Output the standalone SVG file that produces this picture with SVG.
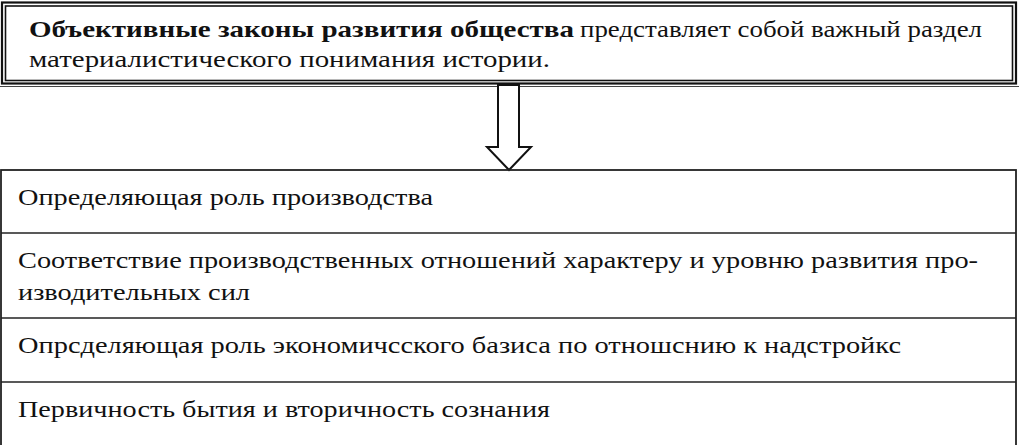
<svg xmlns="http://www.w3.org/2000/svg" width="1019" height="445" viewBox="0 0 1019 445">
<style>
.t{fill:#111;font-family:"Liberation Serif","Times New Roman",serif;font-size:23.5px}
.b{font-weight:bold}
.ln{stroke:#222;stroke-width:1.6;fill:none}
</style>
<rect width="1019" height="445" fill="#fff"/>
<g class="t">
<g id="top">
<rect x="2" y="2.5" width="1014" height="81" fill="#fff" stroke="#111" stroke-width="2.2"/>
<rect x="5.5" y="6" width="1007" height="74.5" fill="none" stroke="#111" stroke-width="1.6"/>
<line x1="0" y1="86.5" x2="1019" y2="86.5" stroke="#444" stroke-width="1"/>
<text y="37"><tspan x="29" class="b" textLength="545" lengthAdjust="spacingAndGlyphs">Объективные законы развития общества</tspan><tspan x="580" textLength="402" lengthAdjust="spacingAndGlyphs">представляет собой важный раздел</tspan></text>
<text x="29" y="67" textLength="521" lengthAdjust="spacingAndGlyphs">материалистического понимания истории.</text>
</g>
<g id="connectors">
<path d="M498,85 L519,85 L519,147 L531,147 L509,170 L487,147 L498,147 Z" fill="#fff" stroke="#111" stroke-width="2"/>
</g>
<g id="table">
<rect x="1" y="170" width="1015" height="280" fill="none" stroke="#222" stroke-width="1.8"/>
<g id="row1"><text x="18" y="205" textLength="415" lengthAdjust="spacingAndGlyphs">Определяющая роль производства</text></g>
<line class="ln" x1="1" y1="233" x2="1016" y2="233"/>
<g id="row2"><text x="18" y="268" textLength="960" lengthAdjust="spacingAndGlyphs">Соответствие производственных отношений характеру и уровню развития про-</text>
<text x="18" y="300" textLength="232" lengthAdjust="spacingAndGlyphs">изводительных сил</text></g>
<line class="ln" x1="1" y1="318" x2="1016" y2="318"/>
<g id="row3"><text x="18" y="353" textLength="883" lengthAdjust="spacingAndGlyphs">Опрсделяющая роль экономичсского базиса по отношснию к надстройкс</text></g>
<line class="ln" x1="1" y1="382" x2="1016" y2="382"/>
<g id="row4"><text x="18" y="417" textLength="532" lengthAdjust="spacingAndGlyphs">Первичность бытия и вторичность сознания</text></g>
</g>
</g>
</svg>
